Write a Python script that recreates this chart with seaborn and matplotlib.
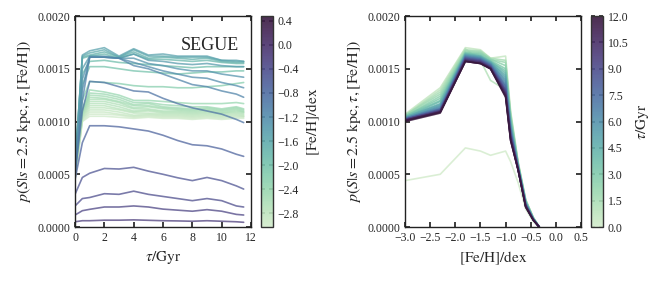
import numpy as np
import pandas as pd
import matplotlib
matplotlib.use("Agg")
import matplotlib.pyplot as plt
import matplotlib.ticker as mticker
import seaborn as sns

# ---------------- data (values in units of 1e-3) ----------------
tau_grid = [0, 0.5, 1, 2, 3, 4, 5, 6, 7, 8, 9, 10, 11, 11.5]

feh_lines = [-3.00, -2.95, -2.90, -2.85, -2.80, -2.75, -2.70, -2.65, -2.60,
             -2.55, -2.50, -2.45, -2.40, -2.20, -2.00, -1.90, -1.80, -1.70,
             -1.60, -1.50, -1.40, -1.30, -1.20, -1.10, -0.90, -0.70, -0.50,
             -0.40, -0.30, -0.20]

p_vs_tau = [
    [0.45, 1.00, 1.05, 1.05, 1.04, 1.03, 1.04, 1.03, 1.03, 1.02, 1.03, 1.02, 1.03, 1.03],
    [0.46, 1.01, 1.07, 1.07, 1.06, 1.04, 1.05, 1.04, 1.04, 1.03, 1.04, 1.03, 1.04, 1.04],
    [0.47, 1.02, 1.09, 1.09, 1.07, 1.05, 1.06, 1.05, 1.05, 1.04, 1.05, 1.04, 1.05, 1.05],
    [0.48, 1.03, 1.11, 1.11, 1.09, 1.06, 1.07, 1.06, 1.06, 1.05, 1.06, 1.05, 1.06, 1.05],
    [0.49, 1.04, 1.13, 1.13, 1.11, 1.08, 1.08, 1.07, 1.07, 1.06, 1.07, 1.06, 1.07, 1.06],
    [0.50, 1.05, 1.15, 1.15, 1.12, 1.09, 1.10, 1.08, 1.08, 1.07, 1.08, 1.07, 1.08, 1.07],
    [0.51, 1.06, 1.17, 1.17, 1.14, 1.10, 1.11, 1.09, 1.09, 1.08, 1.09, 1.08, 1.09, 1.08],
    [0.52, 1.07, 1.19, 1.19, 1.16, 1.12, 1.12, 1.10, 1.10, 1.09, 1.10, 1.08, 1.10, 1.09],
    [0.53, 1.08, 1.21, 1.21, 1.18, 1.13, 1.14, 1.12, 1.11, 1.10, 1.11, 1.09, 1.11, 1.09],
    [0.54, 1.09, 1.23, 1.22, 1.19, 1.15, 1.15, 1.13, 1.12, 1.11, 1.12, 1.10, 1.12, 1.10],
    [0.55, 1.10, 1.25, 1.24, 1.21, 1.16, 1.17, 1.14, 1.13, 1.12, 1.13, 1.11, 1.13, 1.11],
    [0.56, 1.11, 1.27, 1.26, 1.23, 1.18, 1.18, 1.16, 1.15, 1.14, 1.14, 1.12, 1.14, 1.12],
    [0.57, 1.12, 1.30, 1.28, 1.25, 1.20, 1.20, 1.19, 1.18, 1.17, 1.17, 1.17, 1.18, 1.17],
    [0.58, 1.20, 1.38, 1.37, 1.36, 1.34, 1.33, 1.33, 1.32, 1.32, 1.33, 1.34, 1.36, 1.37],
    [0.60, 1.35, 1.52, 1.52, 1.50, 1.48, 1.47, 1.46, 1.45, 1.46, 1.47, 1.47, 1.48, 1.48],
    [0.61, 1.45, 1.57, 1.58, 1.56, 1.55, 1.54, 1.53, 1.52, 1.51, 1.52, 1.52, 1.52, 1.52],
    [0.60, 1.60, 1.62, 1.64, 1.60, 1.64, 1.59, 1.59, 1.58, 1.57, 1.58, 1.56, 1.55, 1.55],
    [0.60, 1.61, 1.63, 1.66, 1.61, 1.66, 1.60, 1.61, 1.60, 1.59, 1.60, 1.57, 1.56, 1.56],
    [0.59, 1.62, 1.65, 1.68, 1.61, 1.68, 1.62, 1.62, 1.61, 1.61, 1.61, 1.58, 1.57, 1.57],
    [0.58, 1.63, 1.67, 1.70, 1.62, 1.69, 1.63, 1.64, 1.62, 1.62, 1.62, 1.58, 1.58, 1.57],
    [0.55, 1.50, 1.62, 1.62, 1.60, 1.64, 1.58, 1.57, 1.55, 1.54, 1.55, 1.53, 1.52, 1.52],
    [0.53, 1.40, 1.61, 1.61, 1.60, 1.60, 1.55, 1.53, 1.50, 1.48, 1.48, 1.45, 1.43, 1.42],
    [0.52, 1.30, 1.61, 1.61, 1.60, 1.56, 1.52, 1.48, 1.45, 1.42, 1.41, 1.37, 1.34, 1.32],
    [0.50, 1.20, 1.61, 1.61, 1.60, 1.53, 1.50, 1.45, 1.40, 1.35, 1.33, 1.29, 1.26, 1.23],
    [0.50, 1.10, 1.38, 1.37, 1.33, 1.29, 1.28, 1.22, 1.17, 1.13, 1.10, 1.07, 1.02, 0.99],
    [0.45, 0.80, 0.96, 0.96, 0.95, 0.93, 0.91, 0.87, 0.82, 0.78, 0.77, 0.74, 0.69, 0.67],
    [0.31, 0.47, 0.51, 0.555, 0.55, 0.566, 0.53, 0.50, 0.467, 0.44, 0.47, 0.44, 0.39, 0.36],
    [0.20, 0.27, 0.28, 0.316, 0.31, 0.34, 0.31, 0.29, 0.27, 0.25, 0.27, 0.25, 0.20, 0.19],
    [0.114, 0.155, 0.168, 0.19, 0.19, 0.20, 0.19, 0.17, 0.16, 0.15, 0.165, 0.15, 0.12, 0.114],
    [0.05, 0.06, 0.06, 0.065, 0.065, 0.068, 0.064, 0.06, 0.058, 0.055, 0.06, 0.055, 0.05, 0.045],
]

feh_grid = [-3.0, -2.3, -1.8, -1.5, -1.3, -1.0, -0.9, -0.75, -0.6, -0.45, -0.33]

age_lines = [0.0, 0.5, 1.0, 1.5, 2.0, 2.5, 3.0, 3.5, 4.0, 4.5, 5.0, 5.5, 6.0,
             6.5, 7.0, 7.5, 8.0, 8.5, 9.0, 9.5, 10.0, 10.5, 11.0, 11.5, 12.0]

p_vs_feh = [
    [0.44, 0.50, 0.75, 0.72, 0.68, 0.72, 0.62, 0.42, 0.17, 0.05, 0.0],
    [1.07, 1.32, 1.70, 1.68, 1.60, 1.62, 1.10, 0.62, 0.26, 0.09, 0.0],
    [1.06, 1.30, 1.69, 1.58, 1.39, 1.30, 1.02, 0.60, 0.25, 0.09, 0.0],
    [1.06, 1.28, 1.68, 1.67, 1.60, 1.58, 1.08, 0.61, 0.26, 0.09, 0.0],
    [1.06, 1.26, 1.67, 1.66, 1.59, 1.56, 1.06, 0.60, 0.25, 0.09, 0.0],
    [1.05, 1.24, 1.66, 1.65, 1.59, 1.53, 1.05, 0.60, 0.25, 0.09, 0.0],
    [1.05, 1.22, 1.65, 1.64, 1.58, 1.50, 1.03, 0.59, 0.24, 0.08, 0.0],
    [1.05, 1.20, 1.65, 1.63, 1.57, 1.48, 1.01, 0.59, 0.24, 0.08, 0.0],
    [1.04, 1.19, 1.64, 1.62, 1.57, 1.46, 1.00, 0.58, 0.24, 0.08, 0.0],
    [1.04, 1.17, 1.64, 1.62, 1.56, 1.44, 0.98, 0.58, 0.23, 0.08, 0.0],
    [1.04, 1.16, 1.63, 1.61, 1.56, 1.42, 0.97, 0.57, 0.23, 0.08, 0.0],
    [1.03, 1.15, 1.63, 1.61, 1.55, 1.40, 0.95, 0.57, 0.23, 0.08, 0.0],
    [1.03, 1.14, 1.62, 1.60, 1.55, 1.38, 0.94, 0.57, 0.22, 0.08, 0.0],
    [1.03, 1.13, 1.62, 1.60, 1.54, 1.36, 0.92, 0.56, 0.22, 0.07, 0.0],
    [1.03, 1.12, 1.61, 1.59, 1.54, 1.34, 0.91, 0.56, 0.22, 0.07, 0.0],
    [1.02, 1.12, 1.61, 1.59, 1.53, 1.33, 0.90, 0.56, 0.21, 0.07, 0.0],
    [1.02, 1.11, 1.60, 1.58, 1.53, 1.31, 0.89, 0.55, 0.21, 0.07, 0.0],
    [1.02, 1.11, 1.60, 1.58, 1.52, 1.30, 0.88, 0.55, 0.21, 0.07, 0.0],
    [1.02, 1.10, 1.59, 1.57, 1.52, 1.29, 0.87, 0.55, 0.20, 0.07, 0.0],
    [1.02, 1.10, 1.59, 1.57, 1.51, 1.28, 0.86, 0.55, 0.20, 0.07, 0.0],
    [1.01, 1.10, 1.58, 1.56, 1.51, 1.27, 0.85, 0.54, 0.20, 0.07, 0.0],
    [1.01, 1.09, 1.58, 1.56, 1.51, 1.26, 0.84, 0.54, 0.20, 0.07, 0.0],
    [1.01, 1.09, 1.57, 1.55, 1.50, 1.25, 0.83, 0.54, 0.19, 0.07, 0.0],
    [1.01, 1.09, 1.57, 1.55, 1.50, 1.24, 0.82, 0.54, 0.19, 0.066, 0.0],
    [1.00, 1.08, 1.57, 1.55, 1.50, 1.23, 0.82, 0.54, 0.19, 0.066, 0.0],
]

left_yticks = [0.0, 0.0005, 0.0010, 0.0015, 0.0020]
left_xticks = [0, 2, 4, 6, 8, 10, 12]
right_xticks = [-3.0, -2.5, -2.0, -1.5, -1.0, -0.5, 0.0, 0.5]
cbar_feh_ticks = [-2.8, -2.4, -2.0, -1.6, -1.2, -0.8, -0.4, 0.0, 0.4]
cbar_age_ticks = [0.0, 1.5, 3.0, 4.5, 6.0, 7.5, 9.0, 10.5, 12.0]

# ---------------- style ----------------
sns.set_theme(style="ticks")
plt.rcParams.update({
    "font.family": ["Liberation Serif", "DejaVu Serif"],
    "mathtext.fontset": "stix",
    "font.size": 8.5,
    "axes.linewidth": 1.0,
    "axes.edgecolor": "#222222",
    "xtick.direction": "in",
    "ytick.direction": "in",
    "xtick.top": True,
    "ytick.right": True,
    "xtick.major.size": 3.5,
    "ytick.major.size": 3.5,
    "xtick.labelsize": 8.5,
    "ytick.labelsize": 8.5,
    "axes.labelsize": 11,
})

cmap = sns.cubehelix_palette(start=0.675, rot=-0.70, hue=1.0, light=0.88, dark=0.15,
                             as_cmap=True)

rows = []
for feh, vals in zip(feh_lines, p_vs_tau):
    for t, v in zip(tau_grid, vals):
        rows.append({"tau": t, "p": v * 1e-3, "feh": feh})
dfL = pd.DataFrame(rows)

rows = []
for age, vals in zip(age_lines, p_vs_feh):
    for f, v in zip(feh_grid, vals):
        rows.append({"feh": f, "p": v * 1e-3, "age": age})
dfR = pd.DataFrame(rows)

fig = plt.figure(figsize=(6.64, 2.81), dpi=100)
axL = fig.add_axes([0.113, 0.192, 0.265, 0.751])
caxL = fig.add_axes([0.393, 0.192, 0.018, 0.751])
axR = fig.add_axes([0.610, 0.192, 0.265, 0.751])
caxR = fig.add_axes([0.890, 0.192, 0.018, 0.751])

normL = matplotlib.colors.Normalize(vmin=-3.03, vmax=0.48)
normR = matplotlib.colors.Normalize(vmin=0.0, vmax=12.0)

sns.lineplot(data=dfL, x="tau", y="p", hue="feh", palette=cmap, hue_norm=normL,
             units="feh", estimator=None, sort=False, legend=False,
             lw=1.2, alpha=0.75, ax=axL)
sns.lineplot(data=dfR, x="feh", y="p", hue="age", palette=cmap, hue_norm=normR,
             units="age", estimator=None, sort=False, legend=False,
             lw=1.2, alpha=0.85, ax=axR)

minus = lambda fmt: mticker.FuncFormatter(lambda v, p: (fmt % v).replace("-", "\u2212"))

ylab = r"$p(S|s=2.5\ \mathrm{kpc},\tau,[\mathrm{Fe/H}])$"
for ax in (axL, axR):
    ax.set_ylim(0, 0.002)
    ax.set_yticks(left_yticks)
    ax.yaxis.set_major_formatter(mticker.FormatStrFormatter("%.4f"))
    ax.set_ylabel(ylab, fontsize=11.5, labelpad=3)
    ax.minorticks_off()

axL.set_xlim(0, 12)
axL.set_xticks(left_xticks)
axL.set_xlabel(r"$\tau/\mathrm{Gyr}$")
axL.text(0.93, 0.86, "SEGUE", transform=axL.transAxes, ha="right", va="center",
         fontsize=13)

axR.set_xlim(-3.0, 0.5)
axR.set_xticks(right_xticks)
axR.xaxis.set_major_formatter(minus("%.1f"))
axR.set_xlabel(r"$[\mathrm{Fe/H}]/\mathrm{dex}$")

smL = matplotlib.cm.ScalarMappable(norm=normL, cmap=cmap)
smR = matplotlib.cm.ScalarMappable(norm=normR, cmap=cmap)
cbL = fig.colorbar(smL, cax=caxL, alpha=0.9)
cbR = fig.colorbar(smR, cax=caxR, alpha=0.9)
cbL.set_ticks(cbar_feh_ticks)
cbL.ax.yaxis.set_major_formatter(minus("%.1f"))
cbR.set_ticks(cbar_age_ticks)
cbR.ax.yaxis.set_major_formatter(minus("%.1f"))
cbL.set_label(r"$[\mathrm{Fe/H}]/\mathrm{dex}$", fontsize=11)
cbR.set_label(r"$\tau/\mathrm{Gyr}$", fontsize=11)
for cb in (cbL, cbR):
    cb.ax.tick_params(direction="in", length=3, labelsize=8.5, left=True, right=True)
    cb.ax.minorticks_off()
    cb.outline.set_edgecolor("#333333")
    cb.outline.set_linewidth(1.0)

fig.savefig("out.png", dpi=100)
